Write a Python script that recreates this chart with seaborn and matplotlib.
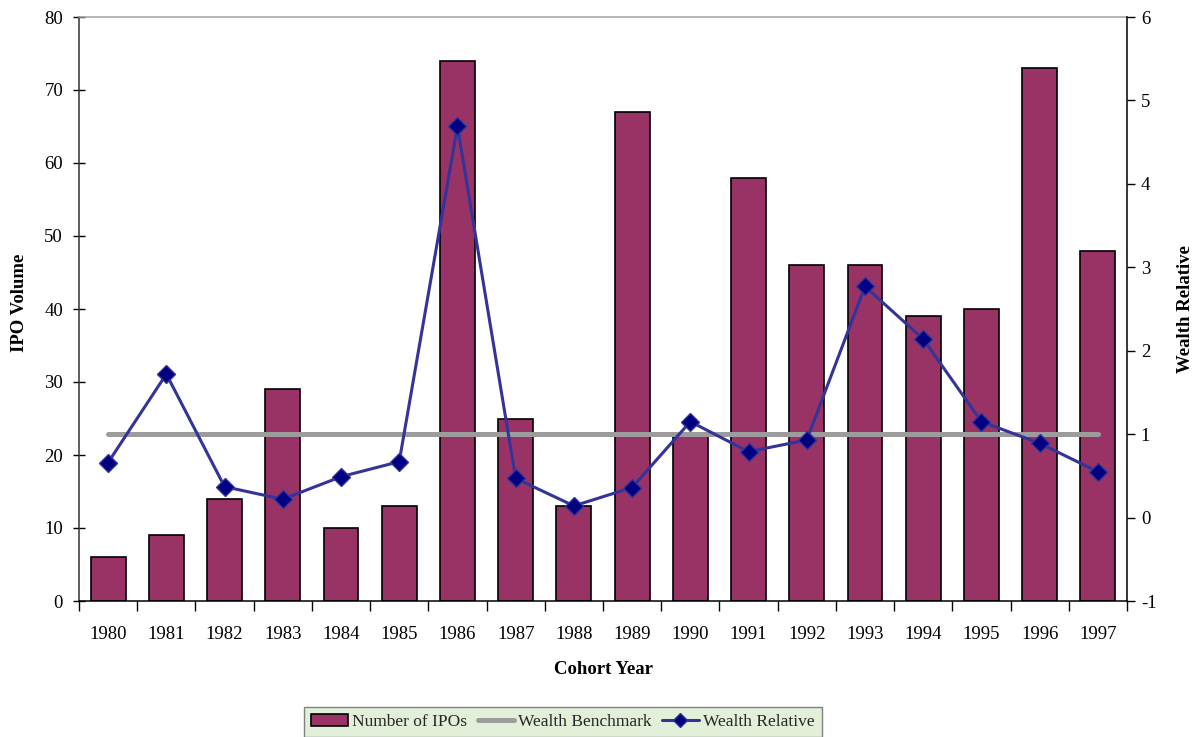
import numpy as np
import pandas as pd
import matplotlib
matplotlib.use("Agg")
import matplotlib.pyplot as plt
import seaborn as sns
from matplotlib.patches import Patch
from matplotlib.lines import Line2D

years = ["1980", "1981", "1982", "1983", "1984", "1985", "1986", "1987", "1988",
         "1989", "1990", "1991", "1992", "1993", "1994", "1995", "1996", "1997"]
ipo_counts = [6, 9, 14, 29, 10, 13, 74, 25, 13, 67, 23, 58, 46, 46, 39, 40, 73, 48]
wealth_relative = [0.66, 1.72, 0.37, 0.22, 0.49, 0.67, 4.69, 0.47, 0.14,
                   0.36, 1.15, 0.79, 0.93, 2.77, 2.14, 1.15, 0.89, 0.55]
wealth_benchmark = [1.0] * len(years)

sns.set_theme(style="white")
plt.rcParams["font.family"] = ["Liberation Serif", "DejaVu Serif"]
plt.rcParams["axes.unicode_minus"] = False

BAR = "#993366"
LINE = "#333399"
MARK = "#000080"
GREY = "#9c9c9c"

fig = plt.figure(figsize=(11.95, 7.37), dpi=100)
ax = fig.add_axes([79 / 1195, 1 - 601 / 737, (1127 - 79) / 1195, (601 - 17) / 737])

df = pd.DataFrame({"year": years, "ipos": ipo_counts})
sns.barplot(data=df, x="year", y="ipos", color=BAR, saturation=1, width=0.6,
            edgecolor="black", linewidth=1.2, ax=ax)

ax2 = ax.twinx()
pos = np.arange(len(years))
sns.lineplot(x=pos, y=wealth_benchmark, color=GREY, linewidth=3.6, ax=ax2,
             solid_capstyle="round")
sns.lineplot(x=pos, y=wealth_relative, color=LINE, linewidth=2.2, marker="D",
             markersize=9, markerfacecolor=MARK, markeredgecolor=LINE,
             markeredgewidth=1, ax=ax2)

ax.set_xlim(-0.5, len(years) - 0.5)
ax.set_ylim(0, 80)
ax.set_yticks(np.arange(0, 81, 10))
ax2.set_ylim(-1, 6)
ax2.set_yticks(np.arange(-1, 7, 1))

fs = 13.5
ax.tick_params(axis="y", which="major", direction="inout", length=9, width=1,
               color="black", labelsize=fs, pad=7, left=True)
ax.tick_params(axis="x", which="major", length=0, labelsize=fs, pad=18)
ax.set_xticks(np.arange(-0.5, len(years), 1), minor=True)
ax.tick_params(axis="x", which="minor", direction="out", length=7, width=1,
               color="black", bottom=True)
ax2.tick_params(axis="y", direction="out", length=6, width=1, color="black",
                labelsize=fs, pad=4, right=True)

for lab in ax.get_xticklabels() + ax.get_yticklabels() + ax2.get_yticklabels():
    lab.set_color("black")

ax.set_xlabel("Cohort Year", fontsize=fs, fontweight="bold", color="black")
ax.set_ylabel("IPO Volume", fontsize=fs, fontweight="bold", color="black")
ax2.set_ylabel("Wealth Relative", fontsize=fs, fontweight="bold", color="black",
               rotation=90)
ax.xaxis.set_label_coords(0.5, -0.102)
ax.yaxis.set_label_coords(-0.057, 0.51)
ax2.yaxis.set_label_coords(1.056, 0.5)
ax2.yaxis.label.set_va("center")
ax.yaxis.label.set_va("center")

for a in (ax, ax2):
    for s in a.spines.values():
        s.set_visible(False)
ax.spines["left"].set_visible(True)
ax.spines["left"].set_color("#333333")
ax.spines["bottom"].set_visible(True)
ax.spines["bottom"].set_color("black")
ax.spines["top"].set_visible(True)
ax.spines["top"].set_color("#a0a0a0")
ax2.spines["right"].set_visible(True)
ax2.spines["right"].set_color("black")
for s in ("left", "bottom", "top"):
    ax.spines[s].set_linewidth(1.1)
ax2.spines["right"].set_linewidth(1.1)
ax.grid(False)
ax2.grid(False)
if ax2.get_legend():
    ax2.get_legend().remove()

handles = [
    Patch(facecolor=BAR, edgecolor="black", linewidth=1.2, label="Number of IPOs"),
    Line2D([], [], color=GREY, linewidth=3.6, solid_capstyle="round", label="Wealth Benchmark"),
    Line2D([], [], color=LINE, linewidth=2.2, marker="D", markersize=7,
           markerfacecolor=MARK, markeredgecolor=LINE, label="Wealth Relative"),
]
leg = fig.legend(handles=handles, loc="center", bbox_to_anchor=(563 / 1195, 1 - 722 / 737),
                 ncol=3, fontsize=12.5, frameon=True, fancybox=False,
                 handlelength=2.1, handletextpad=0.25, columnspacing=0.6,
                 borderpad=0.4, edgecolor="#808080", facecolor="#e2f0d9",
                 framealpha=1)
leg.get_frame().set_linewidth(1)

fig.savefig("out.png", dpi=100)
